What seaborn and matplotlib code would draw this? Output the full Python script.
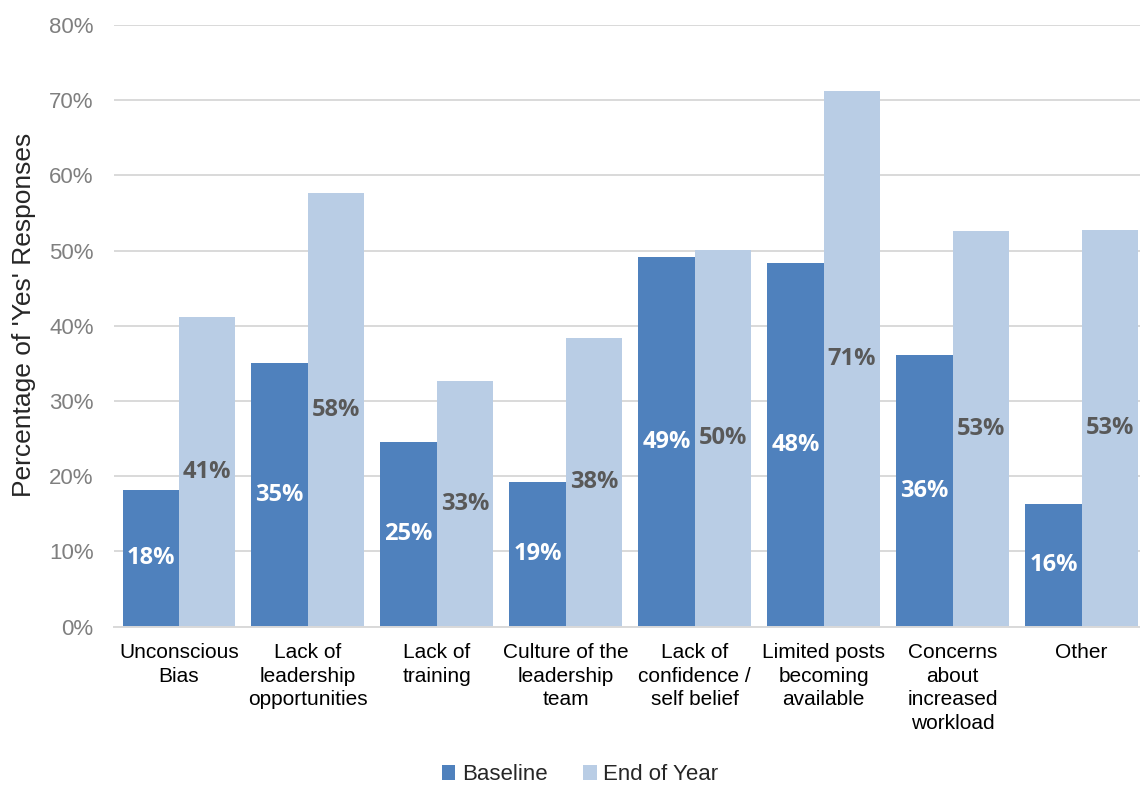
import seaborn as sns
from matplotlib import pyplot as plt
from matplotlib.ticker import FuncFormatter
import pandas as pd

categories = ['Unconscious\nBias', 'Lack of\nleadership\nopportunities', 'Lack of\ntraining',
              'Culture of the\nleadership\nteam', 'Lack of\nconfidence /\nself belief',
              'Limited posts\nbecoming\navailable', 'Concerns\nabout\nincreased\nworkload', 'Other']
baseline = [18.2, 35.1, 24.6, 19.2, 49.2, 48.4, 36.1, 16.3]
end_of_year = [41.2, 57.6, 32.6, 38.4, 50.1, 71.2, 52.6, 52.8]
series = ['Baseline', 'End of Year']
colors = ['#4F81BD', '#B9CDE5']

df = pd.DataFrame({
    'category': categories * 2,
    'value': baseline + end_of_year,
    'series': [series[0]] * len(categories) + [series[1]] * len(categories),
})

sns.set_style('white')
plt.rcParams['font.family'] = ['Liberation Sans', 'DejaVu Sans']

fig = plt.figure(figsize=(11.4, 7.85), dpi=100)
ax = fig.add_axes([0.1004, 0.2017, 0.905, 0.7665])

sns.barplot(data=df, x='category', y='value', hue='series', palette=colors,
            saturation=1, width=0.875, gap=0, ax=ax, edgecolor='none', linewidth=0)

ax.set_ylim(0, 80)
ax.set_xlim(-0.5, 7.5)
ax.set_yticks(range(0, 81, 10))
ax.yaxis.set_major_formatter(FuncFormatter(lambda v, p: f'{v:.0f}%'))
ax.grid(axis='y', color='#d9d9d9', lw=1.4)
ax.set_axisbelow(True)
for s in ['top', 'right', 'left']:
    ax.spines[s].set_visible(False)
ax.spines['bottom'].set_color('#d9d9d9')
ax.spines['bottom'].set_linewidth(1.4)
ax.tick_params(axis='y', length=0, pad=15, labelsize=16, labelcolor='#7f7f7f')
ax.tick_params(axis='x', length=0, pad=12, labelsize=15, labelcolor='black')
for t in ax.get_xticklabels():
    t.set_linespacing(1.3)

ax.set_xlabel('')
ax.set_ylabel("Percentage of 'Yes' Responses", fontsize=19)
ax.yaxis.set_label_coords(-0.076, 0.518)

label_colors = ['white', '#595959']
for cont, vals, c in zip(ax.containers, [baseline, end_of_year], label_colors):
    ax.bar_label(cont, labels=[f'{v:.0f}%' for v in vals], label_type='center',
                 color=c, fontsize=17, fontweight='bold', family=['Open Sans', 'DejaVu Sans'])

handles, labels = ax.get_legend_handles_labels()
ax.get_legend().remove()
fig.legend(handles, labels, loc='center', bbox_to_anchor=(0.509, 0.013),
           bbox_transform=fig.transFigure, ncol=2, frameon=False, fontsize=16,
           handlelength=0.6, handleheight=0.6, handletextpad=0.3, columnspacing=1.6)

plt.savefig('out.png', dpi=100)
